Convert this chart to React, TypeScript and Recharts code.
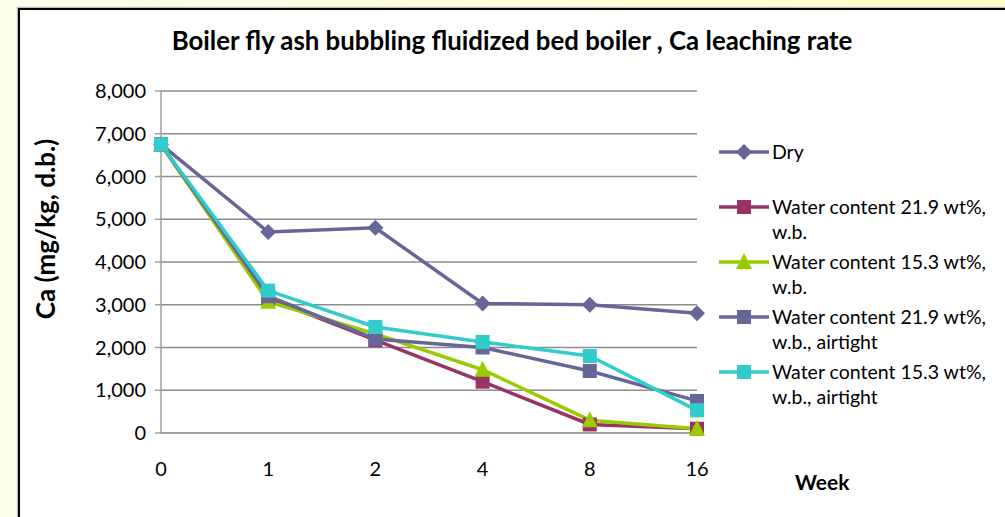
import { CartesianGrid, Line, LineChart, XAxis, YAxis } from "recharts"

const weeks = ["0", "1", "2", "4", "8", "16"]
const dry = [6750, 4700, 4800, 3030, 3000, 2800]
const wet219 = [6750, 3150, 2170, 1200, 200, 100]
const wet153 = [6750, 3070, 2320, 1480, 300, 100]
const airtight219 = [6750, 3200, 2200, 2000, 1450, 750]
const airtight153 = [6750, 3330, 2480, 2130, 1800, 530]

const seriesNames = [
  "Dry",
  "Water content 21.9 wt%, w.b.",
  "Water content 15.3 wt%, w.b.",
  "Water content 21.9 wt%, w.b., airtight",
  "Water content 15.3 wt%, w.b., airtight",
]
const seriesValues = [dry, wet219, wet153, airtight219, airtight153]
const seriesColors = ["#666699", "#993366", "#99CC00", "#666699", "#33CCCC"]
const seriesShapes = ["diamond", "square", "triangle", "square", "square"]
const yTicks = [0, 1000, 2000, 3000, 4000, 5000, 6000, 7000, 8000]

const FONT = "Lato, 'Open Sans', sans-serif"

const data = weeks.map((week, i) => {
  const row: Record<string, string | number> = { week }
  seriesValues.forEach((vals, s) => {
    row["s" + s] = vals[i]
  })
  return row
})

function Marker({ shape, color, cx, cy }: { shape: string; color: string; cx: number; cy: number }) {
  if (shape === "diamond") {
    const r = 8
    return (
      <polygon
        points={`${cx},${cy - r} ${cx + r},${cy} ${cx},${cy + r} ${cx - r},${cy}`}
        fill={color}
      />
    )
  }
  if (shape === "triangle") {
    const r = 8
    return (
      <polygon
        points={`${cx},${cy - r - 1} ${cx + r},${cy + r - 1} ${cx - r},${cy + r - 1}`}
        fill={color}
      />
    )
  }
  return <rect x={cx - 7} y={cy - 7} width={14} height={14} fill={color} />
}

const makeDot = (shape: string, color: string) => (props: any) => {
  const { cx, cy, index } = props
  if (cx == null || cy == null) return <g key={index} />
  return (
    <g key={index}>
      <Marker shape={shape} color={color} cx={cx} cy={cy} />
    </g>
  )
}

function LegendBox() {
  return (
    <div style={{ position: "absolute", left: 718, top: 139, fontFamily: FONT, fontSize: 19.5 }}>
      {seriesNames.map((name, i) => {
        const parts = name.split("wt%, ")
        const lines = parts.length > 1 ? [parts[0] + "wt%,", parts[1]] : [name]
        return (
          <div key={name} style={{ display: "flex", height: 55, alignItems: "flex-start" }}>
            <svg width={54} height={26} style={{ flexShrink: 0 }}>
              <line x1={1} y1={13} x2={51} y2={13} stroke={seriesColors[i]} strokeWidth={3.5} />
              <Marker shape={seriesShapes[i]} color={seriesColors[i]} cx={26} cy={13} />
            </svg>
            <div style={{ lineHeight: "25px", color: "#000", whiteSpace: "nowrap" }}>
              {lines.map((l) => (
                <div key={l}>{l}</div>
              ))}
            </div>
          </div>
        )
      })}
    </div>
  )
}

export default function App() {
  return (
    <div
      style={{
        position: "fixed",
        left: 0,
        top: 0,
        width: 1005,
        height: 517,
        overflow: "hidden",
        background: "linear-gradient(90deg, #FDFDEC 0%, #FFFFD8 60%, #FFFFC4 100%)",
      }}
    >
      <div
        style={{
          position: "absolute",
          left: 18,
          top: 8,
          width: 1000,
          height: 520,
          background: "#fff",
          borderTop: "2px solid #000",
          borderLeft: "2px solid #000",
          boxShadow: "-1px -1px 1px #bbb",
        }}
      />
      <div style={{ position: "absolute", left: 0, top: 0 }}>
        <LineChart
          width={1005}
          height={517}
          data={data}
          margin={{ top: 91, right: 308, bottom: 54, left: 0 }}
        >
          <CartesianGrid vertical={false} stroke="#8c8c8c" strokeWidth={1.5} />
          <XAxis
            dataKey="week"
            stroke="#a0a0a0"
            strokeWidth={1.5}
            tickLine={false}
            tickSize={0}
            tickMargin={29}
            height={30}
            tick={{ fill: "#000", fontSize: 20, fontFamily: FONT }}
          />
          <YAxis
            domain={[0, 8000]}
            ticks={yTicks}
            width={161}
            stroke="#a0a0a0"
            strokeWidth={1.5}
            tickSize={6}
            tickMargin={9}
            tickFormatter={(v: number) => v.toLocaleString("en-US")}
            tick={{ fill: "#000", fontSize: 20, fontFamily: FONT }}
          />
          {seriesNames.map((name, i) => (
            <Line
              key={name}
              dataKey={"s" + i}
              name={name}
              type="linear"
              stroke={seriesColors[i]}
              strokeWidth={3.5}
              dot={makeDot(seriesShapes[i], seriesColors[i])}
              activeDot={false}
              isAnimationActive={false}
            />
          ))}
        </LineChart>
      </div>
      <div
        style={{
          position: "absolute",
          left: 0,
          width: 1024,
          top: 25,
          textAlign: "center",
          fontFamily: FONT,
          fontWeight: 700,
          fontSize: 25.8,
          color: "#000",
          whiteSpace: "nowrap",
        }}
      >
        Boiler fly ash bubbling fluidized bed boiler , Ca leaching rate
      </div>
      <div
        style={{
          position: "absolute",
          left: 45,
          top: 229,
          transform: "translate(-50%, -50%) rotate(-90deg)",
          whiteSpace: "nowrap",
          fontFamily: FONT,
          fontWeight: 700,
          fontSize: 26,
          color: "#000",
        }}
      >
        Ca (mg/kg, d.b.)
      </div>
      <div
        style={{
          position: "absolute",
          left: 795,
          top: 469,
          fontFamily: FONT,
          fontWeight: 700,
          fontSize: 21,
          color: "#000",
        }}
      >
        Week
      </div>
      <LegendBox />
    </div>
  )
}
